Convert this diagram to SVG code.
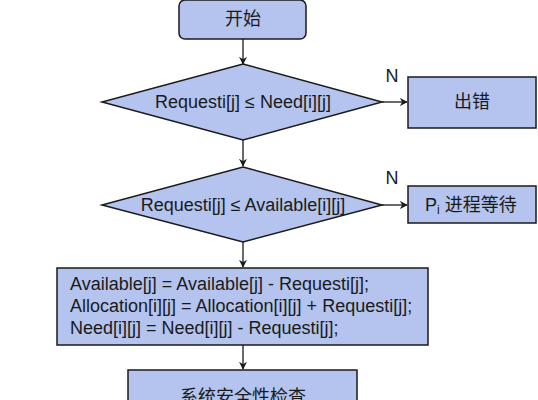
<svg xmlns="http://www.w3.org/2000/svg" width="538" height="400" viewBox="0 0 538 400">
<defs>
<style>
.n{fill:#b4c4ee;stroke:#1a1a1a;stroke-width:1.5}
.t{font-family:"Liberation Sans","Noto Sans CJK SC",sans-serif;font-size:18px;fill:#1a1a1a}
.c{text-anchor:middle;dominant-baseline:central}
.e{stroke:#1a1a1a;stroke-width:1.3;fill:none;marker-end:url(#a)}
</style>
<marker id="a" viewBox="0 0 10 10" refX="9" refY="5" markerWidth="8" markerHeight="8" markerUnits="userSpaceOnUse" orient="auto">
<path d="M0,0 L10,5 L0,10 L3,5 Z" fill="#1a1a1a"/>
</marker>
</defs>
<rect width="538" height="400" fill="#ffffff"/>
<g id="connectors">
<path class="e" d="M243,39 V64"/>
<path class="e" d="M382,102 H407"/>
<path class="e" d="M243,140 V166"/>
<path class="e" d="M382,205 H407"/>
<path class="e" d="M243,242 V267"/>
<path class="e" d="M243,345 V369"/>
<text class="t" x="392" y="82" text-anchor="middle" font-size="17">N</text>
<text class="t" x="392" y="184" text-anchor="middle" font-size="17">N</text>
</g>
<g id="start">
<rect class="n" x="179" y="0" width="127" height="39" rx="6"/>
<text class="t c" x="243" y="19">开始</text>
</g>
<g id="check-need">
<polygon class="n" points="243,64 382,102 243,140 102,102"/>
<text class="t c" x="243" y="102">Requesti[j] ≤ Need[i][j]</text>
</g>
<g id="error">
<rect class="n" x="408" y="77" width="128" height="51"/>
<text class="t c" x="472" y="102">出错</text>
</g>
<g id="check-available">
<polygon class="n" points="243,167 382,205 243,242 102,205"/>
<text class="t c" x="243" y="205">Requesti[j] ≤ Available[i][j]</text>
</g>
<g id="wait">
<rect class="n" x="408" y="186" width="128" height="37"/>
<text class="t" x="425" y="211">P<tspan font-size="12" dy="3">i</tspan><tspan dy="-3"> 进程等待</tspan></text>
</g>
<g id="allocate">
<rect class="n" x="57" y="268" width="371" height="77"/>
<text class="t" x="70" y="290">Available[j] = Available[j] - Requesti[j];</text>
<text class="t" x="70" y="312">Allocation[i][j] = Allocation[i][j] + Requesti[j];</text>
<text class="t" x="70" y="334">Need[i][j] = Need[i][j] - Requesti[j];</text>
</g>
<g id="safety">
<rect class="n" x="128" y="370" width="229" height="45"/>
<text class="t" x="243" y="403" text-anchor="middle">系统安全性检查</text>
</g>
</svg>
